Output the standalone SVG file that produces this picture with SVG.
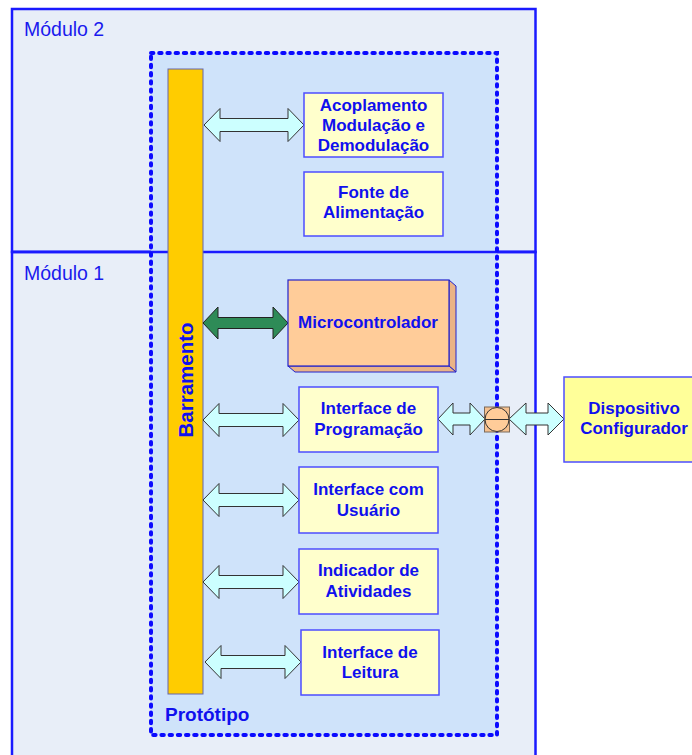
<svg xmlns="http://www.w3.org/2000/svg" width="692" height="755" viewBox="0 0 692 755">
<defs>
<style>
.mod{fill:#e8eef8;stroke:#1a1aff;stroke-width:2.5}
.modl{fill:#1a1aee;font-family:"Liberation Sans",Arial,sans-serif;font-size:19.5px}
.box{fill:#ffffcc;stroke:#4d4dff;stroke-width:1.5}
.t{fill:#1010ee;font-family:"Liberation Sans",Arial,sans-serif;font-size:17px;font-weight:bold;text-anchor:middle}
.arr{fill:#ccffff;stroke:#333;stroke-width:1}
</style>
</defs>
<rect width="692" height="755" fill="#fff"/>
<g id="modulo2">
<rect class="mod" x="12" y="9" width="523.5" height="243"/>
<text class="modl" x="24" y="36">Módulo 2</text>
</g>
<g id="modulo1">
<rect class="mod" x="12" y="252" width="523.5" height="520"/>
<text class="modl" x="24" y="280">Módulo 1</text>
</g>
<g id="prototipo">
<rect x="151" y="53" width="346" height="682" fill="#cfe3fa"/>
<line x1="12" y1="252" x2="535.5" y2="252" stroke="#1a1aff" stroke-width="2.5"/>
<rect x="151" y="53" width="346" height="682" fill="none" stroke="#0a0aff" stroke-width="4" stroke-dasharray="2.4 5.8" stroke-linecap="round"/>
<text x="165" y="721" fill="#1010ee" font-family="Liberation Sans,Arial,sans-serif" font-size="19" font-weight="bold">Protótipo</text>
</g>
<g id="barramento">
<rect x="168" y="69" width="35" height="625" fill="#ffcc00" stroke="#6666aa" stroke-width="1"/>
<text transform="translate(192.5,380) rotate(-90)" fill="#1010ee" font-family="Liberation Sans,Arial,sans-serif" font-size="20.5" font-weight="bold" text-anchor="middle">Barramento</text>
</g>
<g id="connectors">
<path class="arr" d="M204,125 L220,108.5 L220,118.5 L288,118.5 L288,108.5 L304,125 L288,141.5 L288,131.5 L220,131.5 L220,141.5 Z"/>
<path fill="#2e8b57" stroke="#222" stroke-width="1" d="M203,323 L218,307 L218,317.5 L273,317.5 L273,307 L288,323 L273,339 L273,328.5 L218,328.5 L218,339 Z"/>
<path class="arr" d="M203,420 L219,403.5 L219,413.5 L283,413.5 L283,403.5 L299,420 L283,436.5 L283,426.5 L219,426.5 L219,436.5 Z"/>
<path class="arr" d="M203,500 L219,483.5 L219,493.5 L283,493.5 L283,483.5 L299,500 L283,516.5 L283,506.5 L219,506.5 L219,516.5 Z"/>
<path class="arr" d="M203,582 L219,565.5 L219,575.5 L283,575.5 L283,565.5 L299,582 L283,598.5 L283,588.5 L219,588.5 L219,598.5 Z"/>
<path class="arr" d="M205,662 L221,645.5 L221,655.5 L285,655.5 L285,645.5 L301,662 L285,678.5 L285,668.5 L221,668.5 L221,678.5 Z"/>
<path class="arr" d="M438,419 L453,403 L453,413 L470,413 L470,403 L485,419 L470,435 L470,425 L453,425 L453,435 Z"/>
<path class="arr" d="M509,419 L526,403 L526,413 L548,413 L548,403 L564,419 L548,435 L548,425 L526,425 L526,435 Z"/>
</g>
<g id="acoplamento">
<rect class="box" x="304" y="93" width="139" height="64"/>
<text class="t" x="373.5" y="111">Acoplamento</text>
<text class="t" x="373.5" y="131">Modulação e</text>
<text class="t" x="373.5" y="151">Demodulação</text>
</g>
<g id="fonte">
<rect class="box" x="304" y="172" width="139" height="64"/>
<text class="t" x="373.5" y="198">Fonte de</text>
<text class="t" x="373.5" y="218">Alimentação</text>
</g>
<g id="microcontrolador">
<polygon points="449,280 456,286 456,372 449,366" fill="#eab386" stroke="#2222cc" stroke-width="1"/>
<polygon points="288,366 449,366 456,372 295,372" fill="#eab386" stroke="#2222cc" stroke-width="1"/>
<rect x="288" y="280" width="161" height="86" fill="#ffcc99" stroke="#2222cc" stroke-width="1.2"/>
<text class="t" x="368" y="328">Microcontrolador</text>
</g>
<g id="interface-programacao">
<rect class="box" x="299" y="387" width="139" height="65"/>
<text class="t" x="368.5" y="414">Interface de</text>
<text class="t" x="368.5" y="435">Programação</text>
</g>
<g id="interface-usuario">
<rect class="box" x="299" y="467" width="139" height="66"/>
<text class="t" x="368.5" y="495">Interface com</text>
<text class="t" x="368.5" y="516">Usuário</text>
</g>
<g id="indicador">
<rect class="box" x="299" y="549" width="139" height="65"/>
<text class="t" x="368.5" y="576">Indicador de</text>
<text class="t" x="368.5" y="597">Atividades</text>
</g>
<g id="interface-leitura">
<rect class="box" x="301" y="630" width="138" height="65"/>
<text class="t" x="370" y="658">Interface de</text>
<text class="t" x="370" y="678">Leitura</text>
</g>
<g id="conector">
<rect x="484.5" y="407" width="25" height="25" fill="#f5c08e" stroke="#7a6a5a" stroke-width="1"/>
<circle cx="497" cy="419.5" r="12" fill="#ffcc99" stroke="#333" stroke-width="1"/>
<line x1="485" y1="419.5" x2="509" y2="419.5" stroke="#333" stroke-width="1"/>
</g>
<g id="dispositivo">
<rect x="564" y="377" width="140" height="85" fill="#ffff99" stroke="#4d4dff" stroke-width="1.5"/>
<text class="t" x="634" y="414">Dispositivo</text>
<text class="t" x="634" y="434">Configurador</text>
</g>
</svg>
